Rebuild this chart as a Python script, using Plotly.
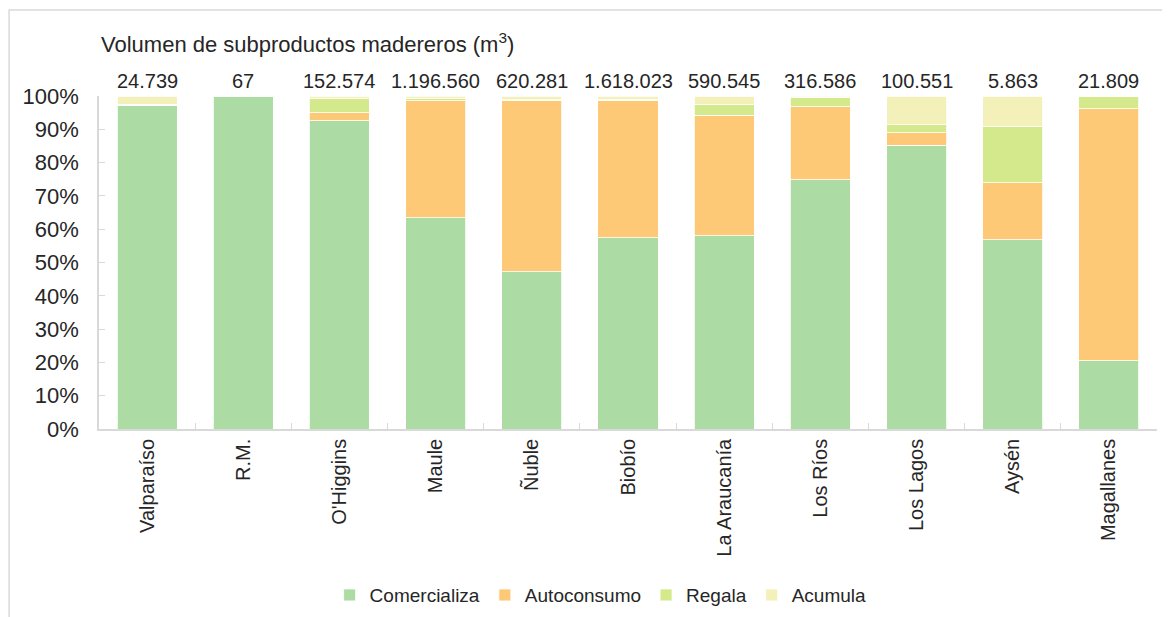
import plotly.graph_objects as go

# regiones y volumen total de subproductos (m3)
regiones = ["Valparaíso", "R.M.", "O'Higgins", "Maule", "Ñuble", "Biobío",
            "La Araucanía", "Los Ríos", "Los Lagos", "Aysén", "Magallanes"]
totales = ["24.739", "67", "152.574", "1.196.560", "620.281", "1.618.023",
           "590.545", "316.586", "100.551", "5.863", "21.809"]

# porcentaje por destino
comercializa = [97.2, 100.0, 92.5, 63.4, 47.2, 57.4, 58.0, 74.8, 85.2, 56.9, 20.5]
autoconsumo = [0.0, 0.0, 2.5, 35.2, 51.6, 41.4, 36.2, 22.0, 3.8, 17.1, 75.6]
regala = [0.3, 0.0, 4.2, 0.8, 0.1, 0.3, 3.1, 2.9, 2.4, 16.8, 3.9]
acumula = [2.5, 0.0, 0.8, 0.6, 1.1, 0.9, 2.7, 0.3, 8.6, 9.2, 0.0]

series = [
    ("Comercializa", comercializa, "#ACDCA4"),
    ("Autoconsumo", autoconsumo, "#FEC976"),
    ("Regala", regala, "#D3E98C"),
    ("Acumula", acumula, "#F4F0BA"),
]

font = "Liberation Sans, Arial, sans-serif"
text_color = "#262626"
gray = "#D9D9D9"

fig = go.Figure()
for name, vals, color in series:
    fig.add_trace(go.Bar(x=regiones, y=vals, name=name,
                         marker=dict(color=color, line=dict(color="white", width=0.8))))

# totales encima de cada barra
for reg, tot in zip(regiones, totales):
    fig.add_annotation(x=reg, y=100, xref="x", yref="y", text=tot, showarrow=False,
                       yanchor="bottom", yshift=2, font=dict(size=20, color=text_color))

# titulo del eje
fig.add_annotation(x=0, y=1, xref="paper", yref="paper", xanchor="left", yanchor="bottom",
                   yshift=37, text="Volumen de subproductos madereros (m<sup>3</sup>)",
                   showarrow=False, font=dict(size=22, color=text_color))

# marco del grafico
fig.add_shape(type="rect", xref="paper", yref="paper", x0=-0.085, x1=1.03, y0=-0.6, y1=1.258,
              line=dict(color=gray, width=1.5), fillcolor="rgba(0,0,0,0)", layer="below")

# la pagina tiene 8px de margen, asi que la figura es 8px menor
fig.update_layout(
    barmode="stack",
    bargap=0.376,
    width=1162, height=609,
    margin=dict(l=91, r=13, t=88, b=188, autoexpand=False),
    paper_bgcolor="white", plot_bgcolor="white",
    font=dict(family=font, size=20, color=text_color),
    showlegend=True,
    legend=dict(orientation="h", xref="container", yref="container",
                x=0.510, xanchor="center", y=0.036, yanchor="middle",
                font=dict(size=19), traceorder="normal", itemwidth=30),
)
fig.update_xaxes(showline=True, linecolor=gray, linewidth=1.5, ticks="inside", ticklen=6,
                 tickcolor=gray, tickson="boundaries", tickangle=-90, showgrid=False,
                 tickfont=dict(size=20), automargin=False)
fig.update_yaxes(range=[0, 100], dtick=10, ticksuffix="%", showline=True, linecolor=gray,
                 linewidth=1.5, ticks="inside", ticklen=6, tickcolor=gray, showgrid=False,
                 zeroline=False, ticklabelstandoff=14, tickfont=dict(size=22), automargin=False)

fig.write_html("out.html")
